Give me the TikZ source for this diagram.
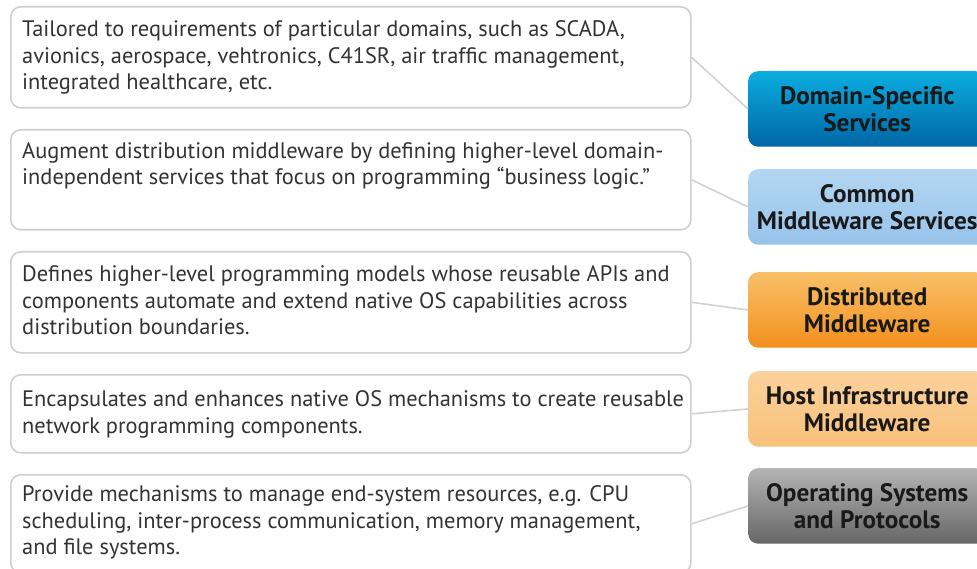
\documentclass[tikz,border=0pt]{standalone}
\usepackage{fontspec}
\setmainfont{PT Sans}
\definecolor{boxline}{HTML}{CFCFCF}
\definecolor{conline}{HTML}{D2D2D2}
\definecolor{ltxt}{HTML}{333333}
\definecolor{aTop}{HTML}{0BAEE0}
\definecolor{aBot}{HTML}{0066A6}
\definecolor{bTop}{HTML}{B3D6F2}
\definecolor{bBot}{HTML}{97C3EA}
\definecolor{cTop}{HTML}{F9C068}
\definecolor{cBot}{HTML}{F2901C}
\definecolor{dTop}{HTML}{FBD29C}
\definecolor{dBot}{HTML}{F8C07A}
\definecolor{eTop}{HTML}{B4B4B4}
\definecolor{eBot}{HTML}{666666}
\tikzset{
  lbox/.style={draw=boxline, line width=1.6pt, rounded corners=10pt, fill=white,
    minimum width=680pt, anchor=north west, inner sep=0pt},
  ltext/.style={anchor=base west, align=left, inner sep=0pt, text=ltxt,
    font=\fontsize{22.4}{26.3}\selectfont},
  rbox/.style={rounded corners=10pt, minimum width=238pt, minimum height=75.5pt,
    anchor=north west, inner sep=0pt, align=center, text=black!90,
    font=\bfseries\fontsize{25.2}{27}\selectfont},
  conn/.style={draw=conline, line width=1.6pt}
}
\begin{document}
\begin{tikzpicture}[x=1pt,y=-1pt]
\useasboundingbox (0,0) rectangle (977,569);
\clip (0,0) rectangle (977,569);
\fill[white] (0,0) rectangle (977,569);
% left boxes
\node[lbox, minimum height=101pt] (b1) at (10,6) {};
\node[lbox, minimum height=100pt] (b2) at (10,129) {};
\node[lbox, minimum height=101pt] (b3) at (10,251) {};
\node[lbox, minimum height=78pt] (b4) at (10,374) {};
\node[lbox, minimum height=98pt] (b5) at (10,474) {};
% texts (anchored at baseline of last line)
\node[ltext] (t1) at (22,89.5) {Tailored to requirements of particular domains, such as SCADA,\\avionics, aerospace, vehtronics, C41SR, air traffic management,\\integrated healthcare, etc.};
\node[ltext] (t2) at (22,184.5) {Augment distribution middleware by defining higher-level domain-\\independent services that focus on programming “business logic.”};
\node[ltext] (t3) at (22,334.5) {Defines higher-level programming models whose reusable APIs and\\components automate and extend native OS capabilities across\\distribution boundaries.};
\node[ltext] (t4) at (22,433) {Encapsulates and enhances native OS mechanisms to create reusable\\network programming components.};
\node[ltext] (t5) at (22,554.5) {Provide mechanisms to manage end-system resources, e.g. CPU\\scheduling, inter-process communication, memory management,\\and file systems.};
% right boxes
\node[rbox, top color=aTop, bottom color=aBot] (rA) at (748,71) {Domain-Specific\\Services};
\node[rbox, top color=bTop, bottom color=bBot] (rB) at (748,169) {Common\\Middleware Services};
\node[rbox, top color=cTop, bottom color=cBot] (rC) at (748,272) {Distributed\\Middleware};
\node[rbox, top color=dTop, bottom color=dBot] (rD) at (748,371) {Host Infrastructure\\Middleware};
\node[rbox, top color=eTop, bottom color=eBot] (rE) at (748,468) {Operating Systems\\and Protocols};
% connectors
\draw[conn] (b1.east) -- (rA.west);
\draw[conn] (b2.east) -- (rB.west);
\draw[conn] (b3.east) -- (rC.west);
\draw[conn] (b4.east) -- (rD.west);
\draw[conn] (b5.east) -- (rE.west);
\end{tikzpicture}
\end{document}
